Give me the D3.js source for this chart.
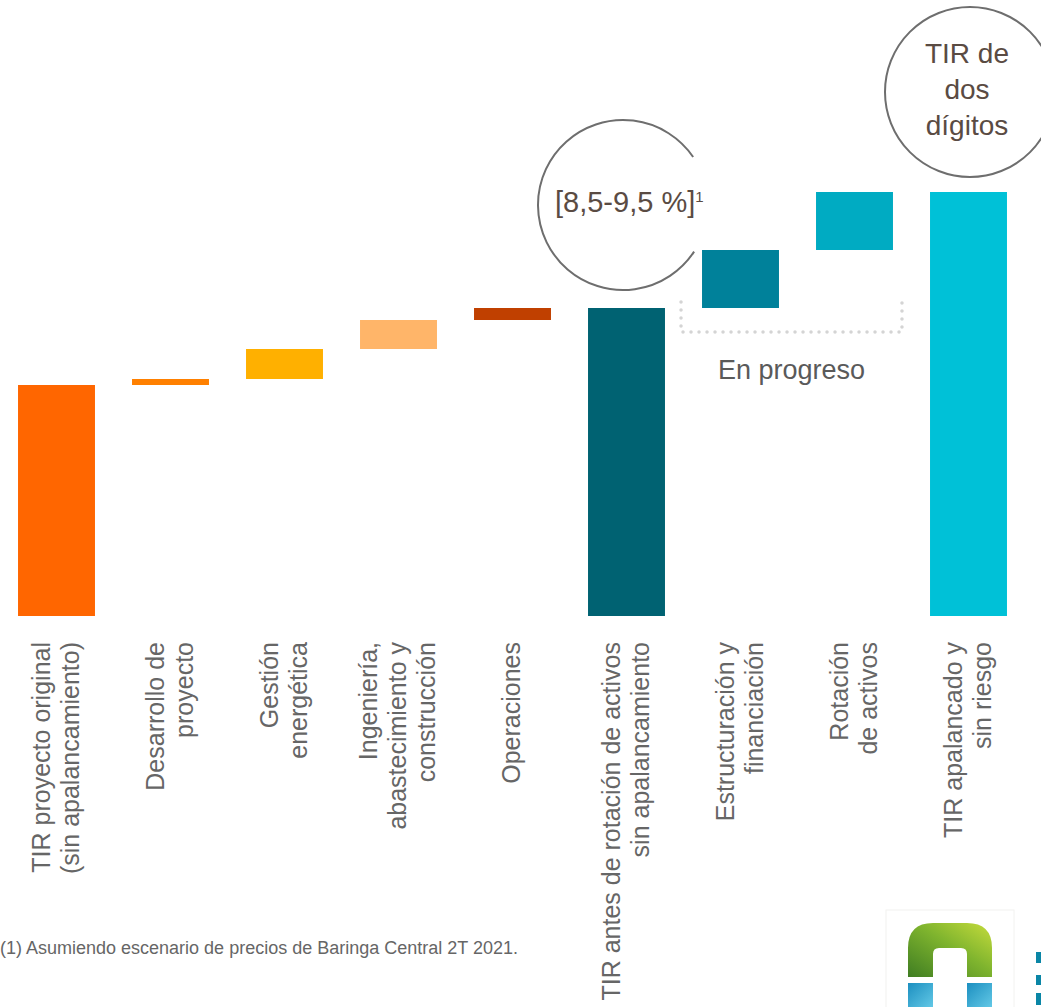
<!DOCTYPE html>
<html>
<head>
<meta charset="utf-8">
<script src="https://cdn.jsdelivr.net/npm/d3@7"></script>
<style>
  body { margin: 0; background: #ffffff; }
  svg { display: block; font-family: "Liberation Sans", Arial, Helvetica, sans-serif; }
</style>
</head>
<body>
<svg id="waterfall-chart" width="1041" height="1007"></svg>
<script>
// categories (each entry = lines of the rotated label)
let categories = [
    ["TIR proyecto original", "(sin apalancamiento)"],
    ["Desarrollo de", "proyecto"],
    ["Gestión", "energética"],
    ["Ingeniería,", "abastecimiento y", "construcción"],
    ["Operaciones"],
    ["TIR antes de rotación de activos", "sin apalancamiento"],
    ["Estructuración y", "financiación"],
    ["Rotación", "de activos"],
    ["TIR apalancado y", "sin riesgo"]
];
// values in index units (no axis in the original)
let values = [23.1, 0.6, 3.0, 2.9, 1.2, 30.8, 5.8, 5.8, 42.4];
let kinds = ["total", "delta", "delta", "delta", "delta", "total", "delta", "delta", "total"];
let colors = ["#ff6600", "#ff8000", "#ffb000", "#ffb569", "#c04000", "#006272", "#00819a", "#00abc2", "#00c1d7"];

let rangeText = "[8,5-9,5 %]";
let rangeNote = "1";
let targetText = ["TIR de", "dos", "dígitos"];
let progressText = "En progreso";
let footnote = "(1) Asumiendo escenario de precios de Baringa Central 2T 2021.";

function drawWaterfall() {
    var svg = d3.select("#waterfall-chart");

    var xScale = d3.scaleBand()
        .domain(d3.range(categories.length))
        .range([-0.5, 1025.5])
        .paddingInner(0.325)
        .paddingOuter(0.1625);
    var yScale = d3.scaleLinear().domain([0, 42.4]).range([616, 192]);

    // running sums for the floating bars
    let bars = [];
    let running = 0;
    values.forEach(function (v, i) {
        if (kinds[i] === "total") {
            bars.push({i: i, y0: 0, y1: v});
            running = v;
        } else {
            bars.push({i: i, y0: running, y1: running + v});
            running += v;
        }
    });

    svg.append("g")
        .selectAll("rect")
        .data(bars)
        .enter()
        .append("rect")
        .attr("x", function (d) { return xScale(d.i); })
        .attr("width", xScale.bandwidth())
        .attr("y", function (d) { return yScale(d.y1); })
        .attr("height", function (d) { return yScale(d.y0) - yScale(d.y1); })
        .style("fill", function (d) { return colors[d.i]; });

    // rotated category labels
    let lineGap = 29, capH = 15;
    let labels = svg.append("g");
    categories.forEach(function (lines, i) {
        let c = xScale(i) + xScale.bandwidth() / 2;
        let first = c - (capH + (lines.length - 1) * lineGap) / 2 + capH;
        lines.forEach(function (t, j) {
            labels.append("text")
                .attr("transform", "translate(" + (first + j * lineGap) + ",642)rotate(-90)")
                .attr("text-anchor", "end")
                .style("font-size", "25px")
                .style("fill", "#666666")
                .text(t);
        });
    });

    // open circle around the intermediate result
    let p = d3.path();
    p.arc(623, 205, 85, 0.58, 2 * Math.PI - 0.6);
    svg.append("path")
        .attr("d", p.toString())
        .style("fill", "none")
        .style("stroke", "#6e6e6e")
        .style("stroke-width", 2);

    let rt = svg.append("text")
        .attr("x", 555)
        .attr("y", 212)
        .style("font-size", "29px")
        .style("fill", "#5a4b43");
    rt.append("tspan").text(rangeText);
    rt.append("tspan")
        .attr("dy", -10)
        .style("font-size", "15px")
        .text(rangeNote);

    // full circle on the final bar
    svg.append("circle")
        .attr("cx", 970)
        .attr("cy", 92)
        .attr("r", 85)
        .style("fill", "none")
        .style("stroke", "#6e6e6e")
        .style("stroke-width", 2);

    targetText.forEach(function (t, j) {
        svg.append("text")
            .attr("x", 967)
            .attr("y", 63 + j * 36)
            .attr("text-anchor", "middle")
            .style("font-size", "28px")
            .style("fill", "#5a4b43")
            .text(t);
    });

    // dotted bracket under the in-progress bars
    let bx0 = xScale(6) - 21, bx1 = xScale(7) + xScale.bandwidth() + 9;
    svg.append("path")
        .attr("d", "M" + bx0 + ",302V332H" + bx1 + "V302")
        .style("fill", "none")
        .style("stroke", "#d4d4d4")
        .style("stroke-width", 3.5)
        .style("stroke-linecap", "round")
        .style("stroke-dasharray", "0 8");

    svg.append("text")
        .attr("x", (bx0 + bx1) / 2)
        .attr("y", 379)
        .attr("text-anchor", "middle")
        .style("font-size", "27px")
        .style("fill", "#5a5a5a")
        .text(progressText);

    svg.append("text")
        .attr("x", 0)
        .attr("y", 954)
        .style("font-size", "18px")
        .style("fill", "#666666")
        .text(footnote);

    // company logo in the corner (approximation)
    let defs = svg.append("defs");
    let gg = defs.append("linearGradient").attr("id", "leaf")
        .attr("x1", 0).attr("y1", 1).attr("x2", 1).attr("y2", 0);
    gg.append("stop").attr("offset", "0%").attr("stop-color", "#3f7d22");
    gg.append("stop").attr("offset", "55%").attr("stop-color", "#7fb42e");
    gg.append("stop").attr("offset", "100%").attr("stop-color", "#c6dc3c");
    let bg = defs.append("linearGradient").attr("id", "water")
        .attr("x1", 0).attr("y1", 0).attr("x2", 1).attr("y2", 1);
    bg.append("stop").attr("offset", "0%").attr("stop-color", "#1c8fc0");
    bg.append("stop").attr("offset", "100%").attr("stop-color", "#62c8e6");

    let logo = svg.append("g");
    logo.append("rect")
        .attr("x", 886).attr("y", 910).attr("width", 128).attr("height", 100)
        .style("fill", "#ffffff")
        .style("stroke", "#f2f2f0");
    logo.append("path")
        .attr("d", "M908,977V948Q908,923 933,923H967Q992,923 992,948V977H967V954Q967,948 961,948H939Q933,948 933,954V977Z")
        .style("fill", "url(#leaf)");
    logo.append("rect")
        .attr("x", 908).attr("y", 983).attr("width", 25).attr("height", 24)
        .style("fill", "url(#water)");
    logo.append("rect")
        .attr("x", 967).attr("y", 983).attr("width", 25).attr("height", 24)
        .style("fill", "url(#water)");
    [[952, 11], [975, 10], [993, 12]].forEach(function (r) {
        logo.append("rect")
            .attr("x", 1036).attr("y", r[0]).attr("width", 5).attr("height", r[1])
            .style("fill", "#0a86a6");
    });
}

drawWaterfall();
</script>
</body>
</html>
